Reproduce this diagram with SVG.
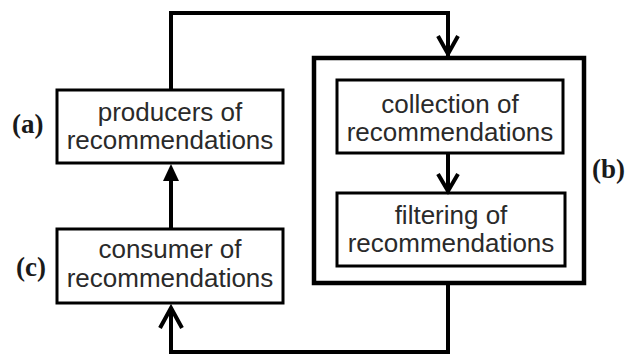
<svg xmlns="http://www.w3.org/2000/svg" width="634" height="356" viewBox="0 0 634 356">
<style>
.box{fill:#fff;stroke:#000;stroke-width:3}
.outer{fill:#fff;stroke:#000;stroke-width:4.5}
.t{font-family:"Liberation Sans",Arial,sans-serif;font-size:26px;fill:#2a2a2a;text-anchor:middle}
.lbl{font-family:"Liberation Serif","Times New Roman",serif;font-size:27px;font-weight:bold;fill:#1a1a1a}
.ln{fill:none;stroke:#000;stroke-width:4}
.chev{fill:none;stroke:#000;stroke-width:4;stroke-linejoin:miter}
</style>
<g id="node-b">
<rect class="outer" x="314" y="58" width="270" height="225"/>
<text class="lbl" x="592" y="178">(b)</text>
</g>
<g id="node-collection">
<rect class="box" x="337" y="80" width="226" height="73"/>
<text class="t" x="450" y="113">collection of</text>
<text class="t" x="450" y="141">recommendations</text>
</g>
<g id="node-filtering">
<rect class="box" x="337" y="193" width="228" height="73"/>
<text class="t" x="451" y="224">filtering of</text>
<text class="t" x="451" y="252">recommendations</text>
</g>
<g id="node-a">
<rect class="box" x="57" y="90" width="226" height="73"/>
<text class="t" x="170" y="121">producers of</text>
<text class="t" x="170" y="149">recommendations</text>
<text class="lbl" x="12" y="133">(a)</text>
</g>
<g id="node-c">
<rect class="box" x="57" y="229" width="226" height="74"/>
<text class="t" x="170" y="258">consumer of</text>
<text class="t" x="170" y="287">recommendations</text>
<text class="lbl" x="16" y="276">(c)</text>
</g>
<g id="connectors">
<polyline class="ln" points="171,90 171,13 448,13 448,56"/>
<polyline class="chev" points="438,36 448,54 458,36"/>
<line class="ln" x1="448" y1="154" x2="448" y2="192"/>
<polyline class="chev" points="438,174 448,191 458,174"/>
<line class="ln" x1="171" y1="229" x2="171" y2="172"/>
<polygon points="171,164 163,181 179,181" fill="#000"/>
<polyline class="ln" points="448,283 448,352 171,352 171,308"/>
<polyline class="chev" points="160,328 171,308 182,328"/>
</g>
</svg>
